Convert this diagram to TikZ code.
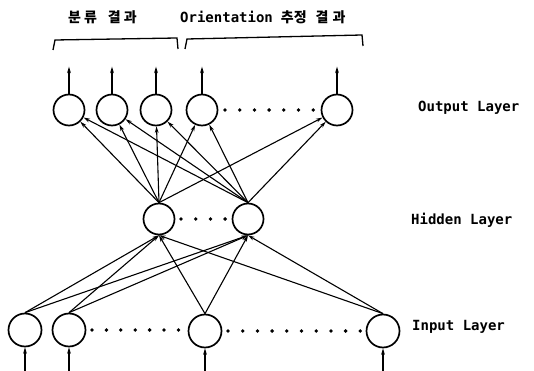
\documentclass[tikz,border=0pt]{standalone}
\usepackage{fontspec}
\setmonofont{DejaVu Sans Mono}
\newfontfamily\kofont{Noto Sans CJK KR}
\usetikzlibrary{arrows.meta}
\begin{document}
\begin{tikzpicture}[x=1pt,y=-1pt,
  neuron/.style={circle,draw,line width=1.7pt,minimum size=31pt,inner sep=0pt},
  conn/.style={line width=1.1pt,-{Stealth[length=6.5pt,width=3.8pt]}},
  brk/.style={line width=1.3pt},
  lbl/.style={font=\ttfamily\bfseries\fontsize{14}{16}\selectfont,anchor=west,inner sep=0pt},
  ttl/.style={font=\bfseries\fontsize{14}{16}\selectfont,anchor=west,inner sep=0pt}]
\useasboundingbox (0,0) rectangle (534,371);
% output layer
\node[neuron] (o1) at (69,110) {};
\node[neuron] (o2) at (112,110) {};
\node[neuron] (o3) at (156,110) {};
\node[neuron] (o4) at (202,110) {};
\node[neuron] (o5) at (337,110) {};
% hidden layer
\node[neuron] (h1) at (159,219) {};
\node[neuron] (h2) at (248,219) {};
% input layer
\node[neuron,minimum size=33pt] (i1) at (25,330) {};
\node[neuron,minimum size=33pt] (i2) at (69,330) {};
\node[neuron,minimum size=33pt] (i3) at (205,331) {};
\node[neuron,minimum size=33pt] (i4) at (383,331) {};
% dots
\foreach \k in {0,...,6} \fill (225+\k*14.7,110) circle (1.9pt);
\foreach \k in {0,...,3} \fill (181+\k*14.7,219) circle (1.9pt);
\foreach \k in {0,...,6} \fill (92+\k*14.4,330) circle (1.9pt);
\foreach \k in {0,...,9} \fill (228+\k*14.7,331) circle (1.9pt);
% hidden -> output
\foreach \h in {h1,h2}
  \foreach \o in {o1,o2,o3,o4,o5}
    \draw[conn] (\h.north) -- (\o);
% input -> hidden
\foreach \i in {i1,i2,i3,i4}
  \foreach \h in {h1,h2}
    \draw[conn] (\i.north) -- (\h.south);
% output arrows
\foreach \o in {o1,o2,o3,o4,o5} {
  \coordinate (\o t) at ([yshift=27pt]\o.north);
  \draw[conn] (\o.north) -- (\o t);
}
% input arrows
\foreach \i in {i1,i2,i3,i4} {
  \coordinate (\i b) at (\i.south |- 0,373);
  \draw[conn] (\i b) -- (\i.south);
}
% brackets
\draw[brk] (53,50) -- (55,40) -- (177,38) -- (178,49);
\draw[brk] (185,49) -- (187,39) -- (362,35) -- (363,46);
% titles
\node[ttl] (t1) at (68,17) {\kofont 분\hspace{3pt}류\hspace{11pt}결\hspace{3pt}과};
\node[ttl] (t2) at (180,17) {\ttfamily Orientation\hspace{8pt}\kofont 추정\hspace{9pt}결\hspace{4pt}과};
% layer labels
\node[lbl] (lo) at (418,108) {Output Layer};
\node[lbl] (lh) at (411,220) {Hidden Layer};
\node[lbl] (li) at (412,327) {Input Layer};
\end{tikzpicture}
\end{document}
